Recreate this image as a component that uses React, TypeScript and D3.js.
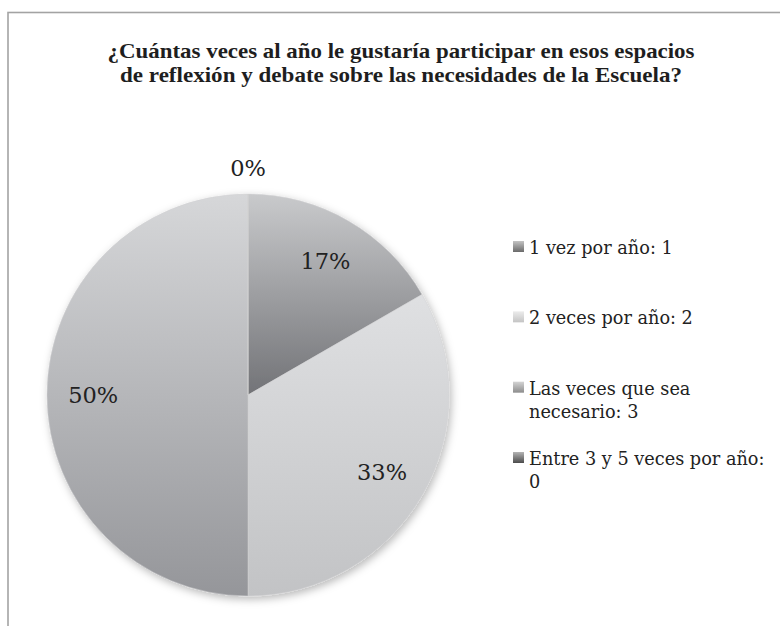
import React from "react";
import * as d3 from "d3";

const titleLines = [
  "¿Cuántas veces al año le gustaría participar en esos espacios",
  "de reflexión y debate sobre las necesidades de la Escuela?",
];
const titleWidths = [587, 562];
const categories = [
  "1 vez por año",
  "2 veces por año",
  "Las veces que sea necesario",
  "Entre 3 y 5 veces por año",
];
const values = [1, 2, 3, 0];
const legendLines = [
  ["1 vez por año: 1"],
  ["2 veces por año: 2"],
  ["Las veces que sea", "necesario: 3"],
  ["Entre 3 y 5 veces por año:", "0"],
];
const sliceTop = ["#c9cacc", "#dfe0e2", "#d6d7d9", "#9a9b9e"];
const sliceBottom = ["#727377", "#c2c3c5", "#95969a", "#4a4b4f"];
const legendTop = ["#c4c4c4", "#ececec", "#d4d4d4", "#b4b4b4"];
const legendBottom = ["#6a6a6a", "#c4c4c4", "#8c8c8c", "#4c4c4c"];

export default function App() {
  const W = 780;
  const H = 626;
  const cx = 248;
  const cy = 395;
  const r = 201;
  const total = d3.sum(values);
  const pie = d3
    .pie<number>()
    .sort(null)
    .value((d) => d)
    .startAngle(0)
    .endAngle(2 * Math.PI);
  const arcs = pie(values);
  const arc = d3.arc<d3.PieArcDatum<number>>().innerRadius(0).outerRadius(r);
  const labelArc = d3
    .arc<d3.PieArcDatum<number>>()
    .innerRadius(r * 0.77)
    .outerRadius(r * 0.77);
  const outerArc = d3
    .arc<d3.PieArcDatum<number>>()
    .innerRadius(r + 26)
    .outerRadius(r + 26);

  const legendY = d3
    .scalePoint<number>()
    .domain(d3.range(categories.length))
    .range([254, 465]);

  const serif = "'DejaVu Serif', serif";

  return (
    <svg
      width={W}
      height={H}
      style={{ position: "absolute", left: 0, top: 0, background: "#fff" }}
    >
      <defs>
        {arcs.map((a, i) => (
          <linearGradient key={i} id={`sg${i}`} x1="0" y1="0" x2="0" y2="1">
            <stop offset="0" stopColor={sliceTop[i]} />
            <stop offset="1" stopColor={sliceBottom[i]} />
          </linearGradient>
        ))}
        {categories.map((c, i) => (
          <linearGradient key={c} id={`lg${i}`} x1="0" y1="0" x2="0" y2="1">
            <stop offset="0" stopColor={legendTop[i]} />
            <stop offset="1" stopColor={legendBottom[i]} />
          </linearGradient>
        ))}
        <filter id="shadow" x="-20%" y="-20%" width="140%" height="140%">
          <feDropShadow dx="2" dy="3" stdDeviation="4" floodColor="#000" floodOpacity="0.28" />
        </filter>
      </defs>
      <rect x={0} y={0} width={W} height={H} fill="#fff" />
      <rect
        x={8}
        y={12.5}
        width={900}
        height={800}
        fill="none"
        stroke="#a3a3a3"
        strokeWidth={1.6}
      />
      <g fontFamily="'Liberation Serif', serif" fontWeight="bold" fontSize={22} fill="#1e1e1e" textAnchor="middle">
        {titleLines.map((t, i) => (
          <text
            key={i}
            x={401}
            y={58 + i * 24}
            textLength={titleWidths[i]}
            lengthAdjust="spacingAndGlyphs"
          >
            {t}
          </text>
        ))}
      </g>
      <g transform={`translate(${cx},${cy})`}>
        <g filter="url(#shadow)">
          {arcs.map((a, i) => (
            <path key={i} d={arc(a) || ""} fill={`url(#sg${i})`} stroke="#d0d1d3" strokeWidth={0.5} />
          ))}
        </g>
        {arcs.map((a, i) => {
          const pct = Math.round((a.data / total) * 100) + "%";
          const [lx, ly] = a.data === 0 ? outerArc.centroid(a) : labelArc.centroid(a);
          return (
            <text
              key={i}
              x={lx}
              y={ly}
              dy="0.36em"
              textAnchor="middle"
              fontFamily={serif}
              fontSize={22.5}
              fill="#222"
            >
              {pct}
            </text>
          );
        })}
      </g>
      <g fontFamily={serif} fontSize={17.7} fill="#222">
        {legendLines.map((lines, i) => {
          const y = legendY(i) as number;
          return (
            <g key={i}>
              <rect x={513} y={y - 13} width={11} height={11} fill={`url(#lg${i})`} />
              {lines.map((l, j) => (
                <text key={j} x={529} y={y + j * 23}>
                  {l}
                </text>
              ))}
            </g>
          );
        })}
      </g>
    </svg>
  );
}
